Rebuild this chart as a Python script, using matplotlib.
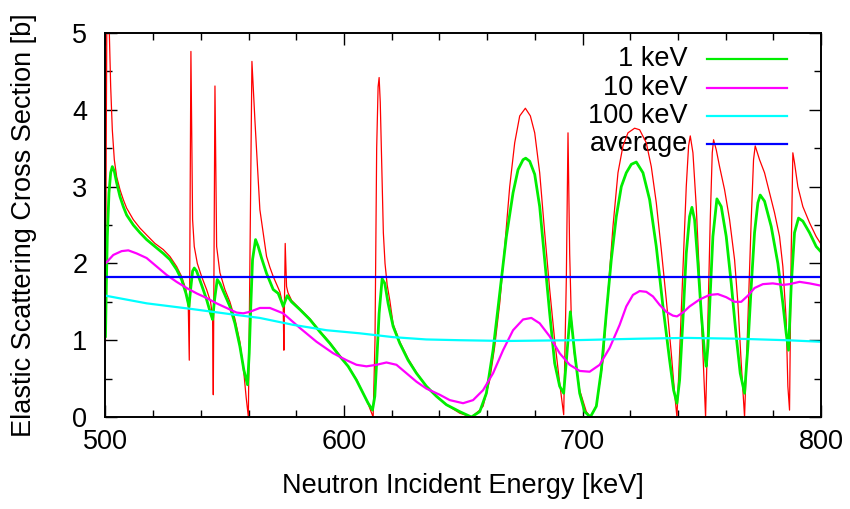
import matplotlib
matplotlib.use('Agg')
import matplotlib.pyplot as plt
import numpy as np
from matplotlib.ticker import MultipleLocator

# pointwise cross section (E [keV], sigma [b])
pointwise = [
    (500.0, 1.0), (500.3, 3.5), (500.7, 6.0), (501.2, 6.0), (501.61, 5.0),
    (502.17, 4.31), (502.86, 3.74), (503.70, 3.35), (504.68, 3.13), (506.08, 2.96),
    (507.47, 2.83), (508.87, 2.72), (511.66, 2.57), (514.45, 2.46), (517.25, 2.37),
    (520.74, 2.26), (524.23, 2.18), (527.02, 2.09), (529.82, 1.96), (531.91, 1.83),
    (533.73, 1.66), (534.71, 1.44), (535.13, 0.74), (535.82, 4.76), (536.52, 2.57),
    (537.22, 2.22), (538.5, 2.00), (540.29, 1.83), (542.39, 1.66), (544.06, 1.50),
    (544.9, 1.3), (545.2, 0.29), (545.9, 4.31), (546.6, 2.22), (547.97, 1.88),
    (550.07, 1.66), (552.16, 1.50), (554.26, 1.28), (556.35, 0.98), (558.03, 0.57),
    (559.0, 0.25), (559.9, 0.0), (561.4, 4.63), (562.64, 3.87), (564.03, 3.09),
    (564.73, 2.70), (566.13, 2.40), (567.53, 2.09), (568.92, 1.95), (570.32, 1.83),
    (573.11, 1.63), (574.51, 1.44), (574.79, 0.87), (575.35, 2.26), (575.91, 1.70),
    (576.5, 1.62), (578.0, 1.52), (581.49, 1.41), (585.68, 1.28), (589.87, 1.12),
    (594.06, 0.97), (598.25, 0.80), (601.74, 0.66), (605.24, 0.49), (608.03, 0.31),
    (610.12, 0.17), (611.5, 0.06), (612.22, 0.0), (613.0, 1.0), (613.7, 3.5),
    (614.3, 4.3), (614.73, 4.42), (615.2, 4.1), (615.8, 3.3), (616.5, 2.4),
    (617.2, 2.0), (618.1, 1.72), (619.2, 1.52), (620.6, 1.21), (623.39, 0.98),
    (626.88, 0.76), (630.38, 0.58), (634.56, 0.40), (638.75, 0.27), (642.94, 0.16),
    (648.53, 0.05), (653.42, 0.0), (656.91, 0.09), (658.31, 0.14), (661.10, 0.48),
    (663.2, 0.92), (665.29, 1.48), (667.39, 2.22), (669.48, 3.00), (671.57, 3.57),
    (673.67, 3.92), (676.04, 4.02), (678.14, 3.92), (679.96, 3.70), (682.05, 3.18),
    (684.14, 2.40), (686.24, 1.66), (688.33, 1.00), (690.43, 0.44), (692.11, 0.03),
    (693.22, 1.8), (693.92, 3.70), (694.62, 2.13), (695.32, 1.27), (696.72, 0.79),
    (698.81, 0.35), (701.6, 0.07), (703.28, 0.0), (705.79, 0.14), (708.59, 0.74),
    (710.68, 1.61), (712.77, 2.48), (714.87, 3.18), (716.97, 3.53), (719.06, 3.70),
    (721.85, 3.76), (723.95, 3.74), (726.74, 3.57), (728.84, 3.26), (730.93, 2.79),
    (733.03, 2.18), (735.12, 1.53), (737.22, 0.83), (738.61, 0.31), (739.59, 0.0),
    (740.71, 0.83), (742.11, 1.92), (743.50, 3.00), (744.48, 3.53), (745.18, 3.66),
    (746.30, 3.44), (747.69, 2.74), (749.09, 1.79), (750.49, 0.83), (751.60, 0.0),
    (752.58, 1.26), (753.56, 2.57), (754.40, 3.44), (754.95, 3.61), (756.07, 3.48),
    (757.47, 3.26), (759.56, 2.96), (761.66, 2.57), (763.75, 2.05), (765.15, 1.48),
    (766.55, 0.70), (767.94, 0.0), (769.34, 1.26), (770.74, 2.57), (771.71, 3.35),
    (772.41, 3.53), (774.23, 3.35), (776.32, 3.18), (778.42, 2.92), (780.51, 2.66),
    (782.61, 2.35), (784.0, 1.96), (785.40, 1.26), (786.10, 0.40), (786.80, 0.09),
    (787.49, 2.13), (788.19, 3.44), (788.89, 3.31), (790.29, 3.00), (792.38, 2.74),
    (795.18, 2.53), (797.97, 2.35), (800.0, 2.25),
]

# broadened with 1 keV resolution
keV1 = [
    (500.0, 1.05), (500.35, 1.70), (500.77, 2.35), (501.47, 2.92), (502.17, 3.18),
    (502.86, 3.26), (503.70, 3.20), (504.68, 3.05), (506.08, 2.87), (507.47, 2.74),
    (508.87, 2.63), (511.66, 2.50), (514.45, 2.40), (517.25, 2.31), (520.74, 2.22),
    (524.23, 2.13), (527.02, 2.05), (529.82, 1.92), (531.91, 1.79), (533.73, 1.61),
    (534.99, 1.44), (535.82, 1.70), (536.52, 1.90), (537.22, 1.94), (538.2, 1.90),
    (540.29, 1.72), (542.39, 1.53), (544.06, 1.35), (544.9, 1.27), (545.74, 1.53),
    (546.86, 1.79), (547.97, 1.74), (550.07, 1.59), (552.16, 1.44), (554.26, 1.22),
    (556.35, 0.92), (558.03, 0.61), (559.56, 0.42), (560.26, 0.83), (560.96, 1.48),
    (561.66, 2.05), (562.92, 2.31), (564.03, 2.22), (565.43, 2.07), (567.53, 1.87),
    (570.32, 1.66), (572.41, 1.61), (573.81, 1.50), (574.51, 1.44), (575.21, 1.50),
    (576.19, 1.58), (578.0, 1.50), (581.49, 1.40), (585.68, 1.27), (589.87, 1.11),
    (594.06, 0.96), (598.25, 0.79), (601.74, 0.66), (605.24, 0.48), (608.03, 0.31),
    (610.12, 0.18), (611.94, 0.09), (612.92, 0.27), (613.89, 0.83), (614.73, 1.35),
    (615.99, 1.80), (617.11, 1.74), (618.50, 1.48), (620.60, 1.18), (623.39, 0.96),
    (626.88, 0.74), (630.38, 0.57), (634.56, 0.40), (638.75, 0.27), (642.94, 0.16),
    (648.53, 0.07), (653.42, 0.0), (656.91, 0.07), (659.7, 0.31), (662.50, 0.87),
    (665.29, 1.61), (668.08, 2.35), (670.88, 2.92), (672.97, 3.22), (675.07, 3.35),
    (676.18, 3.37), (677.86, 3.33), (679.96, 3.16), (682.05, 2.74), (684.14, 2.05),
    (686.24, 1.35), (688.33, 0.70), (690.43, 0.40), (692.11, 0.31), (694.9, 1.37),
    (696.72, 0.83), (698.81, 0.31), (700.90, 0.07), (703.28, 0.0), (705.79, 0.14),
    (707.89, 0.61), (709.98, 1.35), (712.07, 2.05), (714.17, 2.61), (716.27, 3.00),
    (718.36, 3.18), (720.46, 3.29), (722.55, 3.32), (725.35, 3.18), (728.14, 2.83),
    (730.93, 2.22), (733.73, 1.44), (736.52, 0.74), (738.2, 0.35), (739.59, 0.18),
    (740.71, 0.48), (742.11, 1.27), (743.50, 2.13), (744.90, 2.61), (745.88, 2.73),
    (746.99, 2.57), (748.39, 2.00), (749.79, 1.35), (751.18, 0.83), (751.88, 0.66),
    (752.58, 0.92), (753.56, 1.61), (754.67, 2.35), (756.35, 2.84), (758.17, 2.74),
    (760.26, 2.35), (762.36, 1.74), (764.45, 1.05), (766.13, 0.57), (767.94, 0.31),
    (769.34, 0.92), (770.74, 1.70), (772.13, 2.40), (773.53, 2.79), (774.51, 2.89),
    (776.32, 2.81), (779.12, 2.48), (781.91, 2.00), (784.0, 1.48), (785.40, 1.09),
    (786.38, 0.87), (787.49, 1.70), (788.89, 2.40), (790.57, 2.59), (792.38, 2.55),
    (795.18, 2.40), (797.97, 2.22), (800.0, 2.15),
]

# broadened with 10 keV resolution
keV10 = [
    (500.0, 2.00), (503.28, 2.11), (506.77, 2.16), (509.57, 2.17), (513.06, 2.13),
    (517.25, 2.07), (521.44, 1.96), (525.63, 1.85), (529.82, 1.76), (534.01, 1.68),
    (538.2, 1.61), (542.39, 1.55), (546.58, 1.48), (550.77, 1.42), (554.96, 1.36),
    (557.75, 1.35), (560.54, 1.37), (564.73, 1.42), (568.92, 1.42), (574.51, 1.35),
    (581.49, 1.16), (588.48, 0.98), (595.46, 0.83), (601.05, 0.74), (605.24, 0.68),
    (609.43, 0.66), (613.61, 0.68), (617.80, 0.71), (622.0, 0.68), (626.19, 0.57),
    (630.38, 0.46), (634.56, 0.37), (640.15, 0.29), (644.34, 0.22), (649.93, 0.18),
    (654.12, 0.22), (658.31, 0.35), (662.50, 0.57), (666.69, 0.87), (670.88, 1.13),
    (675.07, 1.27), (678.56, 1.29), (682.05, 1.22), (686.24, 1.05), (690.43, 0.83),
    (694.62, 0.68), (698.81, 0.60), (703.0, 0.59), (707.19, 0.68), (711.38, 0.90),
    (715.57, 1.20), (718.36, 1.44), (721.16, 1.59), (723.95, 1.64), (726.74, 1.63),
    (729.54, 1.57), (732.33, 1.46), (735.12, 1.37), (737.92, 1.32), (739.59, 1.31),
    (742.11, 1.36), (744.90, 1.44), (749.09, 1.53), (753.28, 1.59), (756.77, 1.60),
    (760.26, 1.56), (763.75, 1.50), (766.55, 1.50), (769.34, 1.58), (772.13, 1.68),
    (775.62, 1.73), (779.81, 1.74), (784.0, 1.72), (786.80, 1.73), (790.99, 1.76),
    (795.18, 1.74), (800.0, 1.71),
]

# broadened with 100 keV resolution
keV100 = [
    (500.0, 1.58), (517.3, 1.48), (535.3, 1.41), (552.2, 1.34), (564.7, 1.29),
    (578.7, 1.20), (592.7, 1.13), (606.6, 1.09), (620.6, 1.04), (634.5, 1.01),
    (648.5, 1.00), (668.1, 0.99), (696.0, 1.00), (724.0, 1.02), (743.6, 1.03),
    (764.5, 1.02), (785.5, 1.00), (800.0, 0.98),
]

average = 1.82

plt.rcParams['font.family'] = ['Liberation Sans', 'DejaVu Sans']
plt.rcParams['font.size'] = 19.5

fig = plt.figure(figsize=(8.5, 5.09), dpi=100)
ax = fig.add_axes([0.1241, 0.1807, 0.8418, 0.7545])

e, s = np.array(pointwise).T
ax.plot(e, s, color='#ff0000', lw=0.9, zorder=2)
e, s = np.array(keV1).T
ax.plot(e, s, color='#00ee00', lw=2.0, zorder=3)
e, s = np.array(keV10).T
ax.plot(e, s, color='#ff00ff', lw=1.6, zorder=4)
e, s = np.array(keV100).T
ax.plot(e, s, color='#00ffff', lw=1.6, zorder=5)
ax.axhline(average, color='#0000ff', lw=1.6, zorder=6)

ax.set_xlim(500, 800)
ax.set_ylim(0, 5)
ax.xaxis.set_major_locator(MultipleLocator(100))
ax.xaxis.set_minor_locator(MultipleLocator(20))
ax.yaxis.set_major_locator(MultipleLocator(1))
ax.yaxis.set_minor_locator(MultipleLocator(0.5))
ax.tick_params(which='both', direction='in', top=True, right=True, width=1.0)
ax.tick_params(which='major', length=8.5)
ax.tick_params(which='minor', length=5)
ax.tick_params(axis='x', pad=8.5)
ax.tick_params(axis='y', pad=13)
for sp in ax.spines.values():
    sp.set_linewidth(1.4)
    sp.set_zorder(10)

ax.set_xlabel('Neutron Incident Energy [keV]')
ax.set_ylabel('Elastic Scattering Cross Section [b]')
ax.xaxis.set_label_coords(0.5, -0.146)
ax.yaxis.set_label_coords(-0.096, 0.5)

# gnuplot style key: text right aligned, sample line on the right
labels = ['1 keV', '10 keV', '100 keV', 'average']
colors = ['#00ee00', '#ff00ff', '#00ffff', '#0000ff']
rows = [0.932, 0.858, 0.784, 0.710]
for lab, c, yy in zip(labels, colors, rows):
    ax.text(0.814, yy, lab, transform=ax.transAxes, ha='right', va='center', zorder=1)
    ax.plot([0.8407, 0.9525], [yy, yy], transform=ax.transAxes, color=c, lw=1.6, zorder=7)

fig.savefig('out.png', dpi=100)
